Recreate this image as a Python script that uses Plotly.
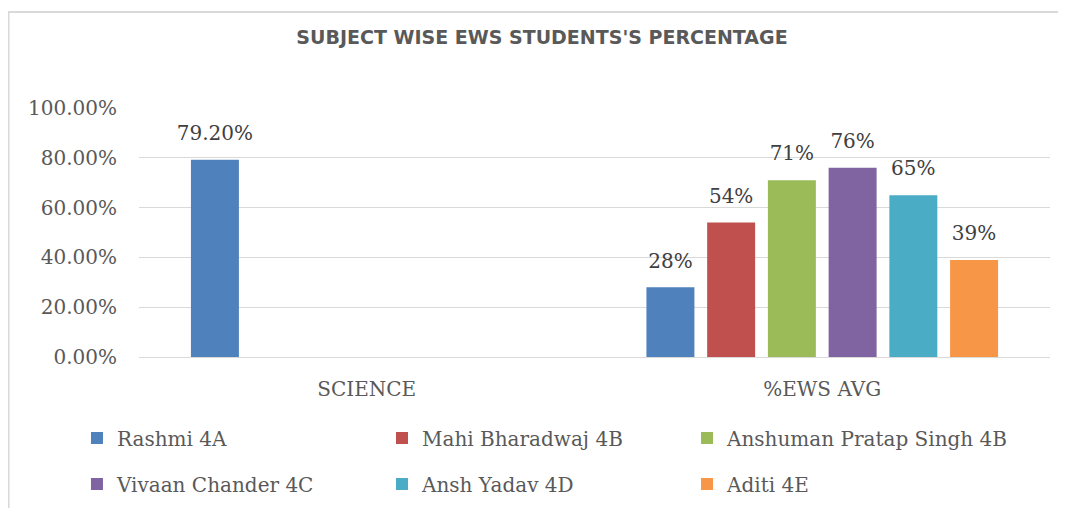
import plotly.graph_objects as go

categories = ["SCIENCE", "%EWS AVG"]
label_formats = ["{:.2%}", "{:.0%}"]

students = ["Rashmi 4A", "Mahi Bharadwaj 4B", "Anshuman Pratap Singh 4B",
            "Vivaan Chander 4C", "Ansh Yadav 4D", "Aditi 4E"]
rashmi = [0.792, 0.28]
mahi = [None, 0.54]
anshuman = [None, 0.71]
vivaan = [None, 0.76]
ansh = [None, 0.65]
aditi = [None, 0.39]
series = [rashmi, mahi, anshuman, vivaan, ansh, aditi]

colors = ["#4F81BD", "#C0504D", "#9BBB59", "#8064A2", "#4BACC6", "#F79646"]
y_ticks = [0, 0.2, 0.4, 0.6, 0.8, 1.0]

serif = "DejaVu Serif"
grey = "#595959"

# legend laid out as 3 columns x 2 rows, one small legend per entry
leg_cols = [0.0652, 0.3535, 0.6418]
leg_rows = [0.14, 0.048]

fig = go.Figure()
legends = {}
for n, (name, vals, col) in enumerate(zip(students, series, colors)):
    lname = "legend" if n == 0 else f"legend{n + 1}"
    legends[lname] = dict(
        orientation="h", font=dict(family=serif, size=20, color=grey),
        bgcolor="rgba(0,0,0,0)", xref="container", yref="container",
        xanchor="left", yanchor="middle",
        x=leg_cols[n % 3], y=leg_rows[n // 3])
    fig.add_trace(go.Bar(
        name=name, x=categories, y=vals, marker_color=col,
        marker_line_width=0, legend=lname,
    ))

# data labels as grouped text points so they sit a bit above the bars
for n, (name, vals) in enumerate(zip(students, series)):
    fig.add_trace(go.Scatter(
        x=categories, y=vals, mode="markers+text", showlegend=False,
        marker=dict(size=22, color="rgba(0,0,0,0)"),
        text=[label_formats[i].format(v) if v is not None else "" for i, v in enumerate(vals)],
        textposition="top center", cliponaxis=False, hoverinfo="skip",
        textfont=dict(family=serif, size=20, color="#404040"),
    ))

# page body adds 8px, so the figure is 8px smaller than the window
fig.update_layout(
    width=1058, height=500,
    margin=dict(l=131, r=16, t=100, b=151),
    paper_bgcolor="white", plot_bgcolor="white",
    barmode="group", bargap=0.2, bargroupgap=0.21,
    scattermode="group", scattergap=0.2,
    title=dict(text="SUBJECT WISE EWS STUDENTS'S PERCENTAGE",
               font=dict(family="DejaVu Sans", size=19, color=grey, weight="bold"),
               x=0.5047, xanchor="center", y=0.942, yanchor="middle"),
    showlegend=True,
    xaxis=dict(tickfont=dict(family=serif, size=20, color=grey),
               showline=True, linecolor="#d9d9d9", linewidth=1,
               ticks="", ticklabelstandoff=14),
    yaxis=dict(range=[0, 1.0], tickvals=y_ticks, tickformat=".2%",
               tickfont=dict(family=serif, size=20, color=grey),
               showgrid=True, gridcolor="#d9d9d9", gridwidth=1,
               zeroline=False, ticks="", ticklabelstandoff=21),
    shapes=[dict(type="rect", xref="paper", yref="paper",
                 x0=-0.1432, x1=1.04, y0=-0.7, y1=1.3855,
                 line=dict(color="#d9d9d9", width=2), fillcolor="rgba(0,0,0,0)",
                 layer="below")],
    **legends,
)

fig.write_html("out.html")
